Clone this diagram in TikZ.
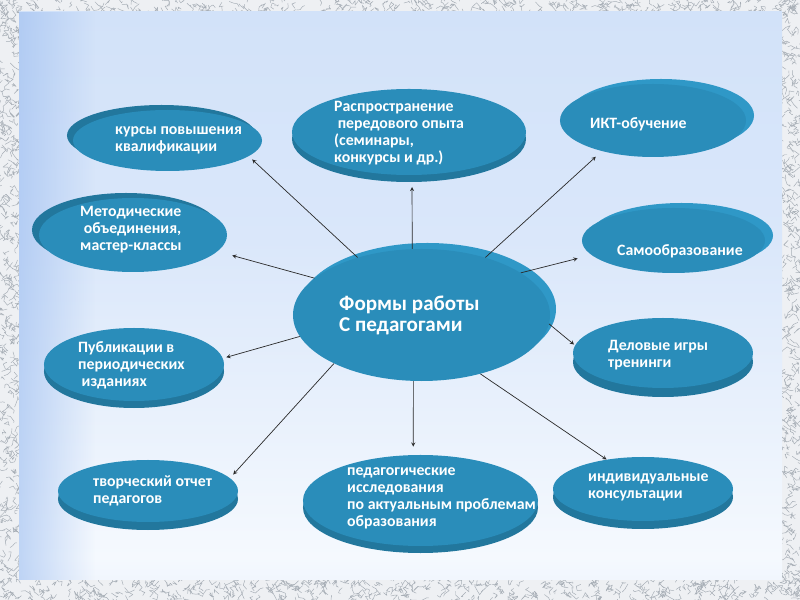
\documentclass[tikz,border=0pt]{standalone}
\usepackage{fontspec}
\setmainfont{Carlito}
\usetikzlibrary{shapes.geometric,shadows,fadings}

\definecolor{framegray}{HTML}{EEF0F3}
\definecolor{crackle}{HTML}{A7AEB6}
\definecolor{paneltop}{HTML}{C8DCF8}
\definecolor{panelmid}{HTML}{DAE7FA}
\definecolor{panelwhite}{HTML}{F5F9FE}
\definecolor{panelbot}{HTML}{B8D0F5}
\definecolor{paneledge}{HTML}{9CBDF0}
\definecolor{discface}{HTML}{2A8DBA}
\definecolor{rimdark}{HTML}{22779D}
\definecolor{rimlight}{HTML}{2F98C7}
\definecolor{arrowgray}{HTML}{2A2A2A}

\pgfdeclareverticalshading{panelshade}{100bp}{color(0bp)=(panelbot); color(27bp)=(panelwhite); color(55bp)=(panelmid); color(100bp)=(paneltop)}
\tikzfading[name=edgefade, left color=transparent!40, right color=transparent!100]

\tikzset{
  disc/.style n args={2}{ellipse, fill=discface, minimum width=#1, minimum height=#2, inner sep=0pt},
  rim/.style n args={3}{drop shadow={shadow xshift=#1, shadow yshift=#2, fill=#3, opacity=1}},
  lbl/.style={text=white, font=\bfseries\fontsize{13.5}{14.5}\selectfont, align=left, anchor=west, inner sep=0pt},
  biglbl/.style={lbl, font=\bfseries\fontsize{18}{18}\selectfont},
  link/.style={->, arrowgray, line width=0.6pt},
  crack/.style={crackle, line width=0.4pt, line cap=round, line join=round}
}

\begin{document}
\begin{tikzpicture}[x=0.03cm, y=-0.03cm, >=stealth]
\useasboundingbox (0,0) rectangle (800,600);
% frame
\fill[framegray] (0,0) rectangle (800,600);
\pgfmathsetseed{11}
\foreach \i in {1,...,300}
  \draw[crack] (rnd*800, rnd*14) -- ++(rand*5, rand*5) -- ++(rand*5, rand*5) -- ++(rand*5, rand*5);
\foreach \i in {1,...,450}
  \draw[crack] (rnd*800, 578+rnd*22) -- ++(rand*5, rand*5) -- ++(rand*5, rand*5) -- ++(rand*5, rand*5);
\foreach \i in {1,...,330}
  \draw[crack] (rnd*21, rnd*600) -- ++(rand*5, rand*5) -- ++(rand*5, rand*5) -- ++(rand*5, rand*5);
\foreach \i in {1,...,320}
  \draw[crack] (780+rnd*20, rnd*600) -- ++(rand*5, rand*5) -- ++(rand*5, rand*5) -- ++(rand*5, rand*5);
% panel
\shade[shading=panelshade] (19,12) rectangle (782,580);
\fill[paneledge, path fading=edgefade] (19,12) rectangle (95,580);

% discs
\node[disc={7.71cm}{3.96cm}, rim={0.18cm}{0.18cm}{rimlight}] (hub) at (421.5,315) {};
\node[disc={5.67cm}{1.83cm}, rim={-0.18cm}{0.15cm}{rimdark}] (kursy) at (167.5,140.5) {};
\node[disc={7.02cm}{2.58cm}, rim={0cm}{-0.21cm}{rimdark}] (rasp) at (409,132) {};
\node[disc={5.58cm}{2.19cm}, rim={0.24cm}{0.15cm}{rimlight}] (ikt) at (653,120.5) {};
\node[disc={5.64cm}{2.22cm}, rim={-0.21cm}{0.15cm}{rimdark}] (metod) at (133,235) {};
\node[disc={5.49cm}{1.95cm}, rim={0.24cm}{0.15cm}{rimlight}] (samo) at (673.5,240.5) {};
\node[disc={5.4cm}{2.19cm}, rim={0cm}{-0.21cm}{rimdark}] (publ) at (134,364.5) {};
\node[disc={5.4cm}{2.1cm}, rim={0cm}{-0.27cm}{rimdark}] (delo) at (663,353) {};
\node[disc={5.4cm}{1.86cm}, rim={0cm}{-0.24cm}{rimdark}] (tvor) at (148,491) {};
\node[disc={7.05cm}{2.73cm}, rim={0cm}{-0.21cm}{rimdark}] (ped) at (420.5,500.5) {};
\node[disc={5.4cm}{1.92cm}, rim={0cm}{-0.24cm}{rimdark}] (indiv) at (643,489) {};

% texts
\node[biglbl] (hub-t) at (339,315) {Формы работы\\С педагогами};
\node[lbl] (kursy-t) at (115,140.5) {курсы повышения\\квалификации};
\node[lbl] (rasp-t) at (334,133) {Распространение\\\hspace{3pt}передового опыта\\(семинары,\\конкурсы и др.)};
\node[lbl] (ikt-t) at (590,124) {ИКТ-обучение};
\node[lbl] (metod-t) at (80,229.5) {Методические\\\hspace{3pt}объединения,\\мастер-классы};
\node[lbl] (samo-t) at (617,251) {Самообразование};
\node[lbl] (publ-t) at (78,365.5) {Публикации в\\периодических\\\hspace{3pt}изданиях};
\node[lbl] (delo-t) at (608,355) {Деловые игры\\тренинги};
\node[lbl] (tvor-t) at (93,491) {творческий отчет\\педагогов};
\node[lbl] (ped-t) at (347,498.5) {педагогические\\исследования\\по актуальным проблемам\\образования};
\node[lbl] (indiv-t) at (588,487.5) {индивидуальные\\консультации};

% connectors
\draw[link, shorten >=4pt] (hub.138) -- (kursy.-11);
\draw[link, shorten >=10pt] (hub.98) -- (rasp.-86);
\draw[link, shorten >=7pt] (hub.42) -- (ikt.211);
\draw[link, shorten >=13pt] (hub.161) -- (metod.-11);
\draw[link, shorten >=12pt] (hub.23) -- (samo.190);
\draw[link, shorten >=3pt] (hub.190) -- (publ.4);
\draw[link, shorten >=1pt] (hub.-4) -- (delo.175);
\draw[link, shorten >=4pt] (hub.209) -- (tvor.9);
\draw[link, shorten >=7pt] (hub.263) -- (ped.99);
\draw[link] (hub.-45) -- (indiv.141);
\end{tikzpicture}
\end{document}
